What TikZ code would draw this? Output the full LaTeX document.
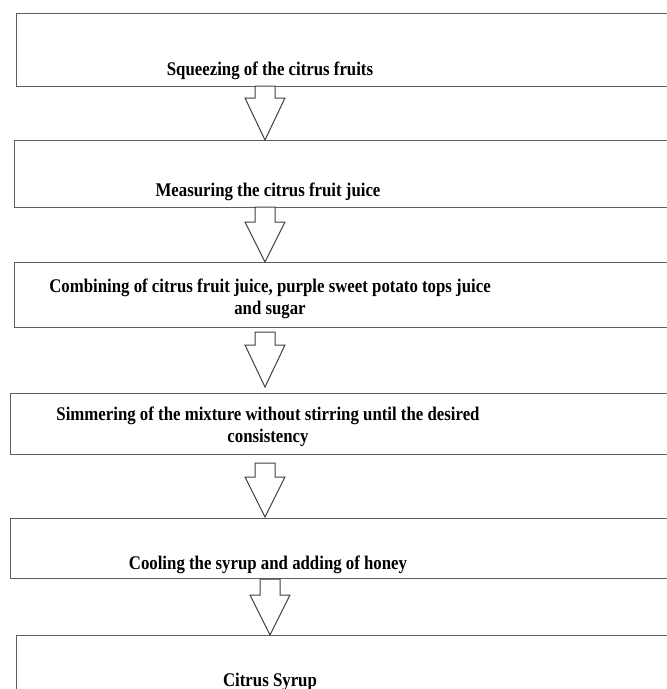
\documentclass[tikz,border=0pt]{standalone}
\usepackage{fontspec}
\setmainfont{Liberation Serif}
\begin{document}
\begin{tikzpicture}[x=1pt,y=-1pt,
  box/.style={draw=boxgray, line width=1.3pt, rectangle, anchor=north west, minimum width=720pt, inner sep=0pt},
  lbl/.style={font=\bfseries\fontsize{16.8}{19}\selectfont, align=center, inner sep=0pt, text=black, yscale=1.15, transform shape},
  arr/.style={draw=black!75, line width=1pt, fill=white, line join=miter}]
\definecolor{boxgray}{HTML}{5E5E5E}
\useasboundingbox (0,0) rectangle (667,689);
\clip (0,0) rectangle (667,689);
\newcommand{\blockarr}[4]{\draw[arr] (#1-10,#2) -- (#1-10,#3) -- (#1-20,#3) -- (#1,#4) -- (#1+20,#3) -- (#1+10,#3) -- (#1+10,#2) -- cycle;}
% boxes
\node[box, minimum height=73pt] (b1) at (16,13) {};
\node[box, minimum height=67pt] (b2) at (14,140) {};
\node[box, minimum height=65pt] (b3) at (14,262) {};
\node[box, minimum height=61pt] (b4) at (10,393) {};
\node[box, minimum height=60pt] (b5) at (10,518) {};
\node[box, minimum height=80pt] (b6) at (16,635) {};
% labels
\node[lbl, anchor=base] (t1) at (270,75) {Squeezing of the citrus fruits};
\node[lbl, anchor=base] (t2) at (268,196) {Measuring the citrus fruit juice};
\node[lbl, anchor=center] (t3) at (270,299) {Combining of citrus fruit juice, purple sweet potato tops juice\\and sugar};
\node[lbl, anchor=center] (t4) at (268,427) {Simmering of the mixture without stirring until the desired\\consistency};
\node[lbl, anchor=base] (t5) at (268,569) {Cooling the syrup and adding of honey};
\node[lbl, anchor=base] (t6) at (270,686) {Citrus Syrup};
% block arrows
\blockarr{265}{86}{98}{140}
\blockarr{265}{207}{222}{262}
\blockarr{265}{332}{345}{387}
\blockarr{265}{463}{477}{517}
\blockarr{270}{579}{595}{635}
\end{tikzpicture}
\end{document}
